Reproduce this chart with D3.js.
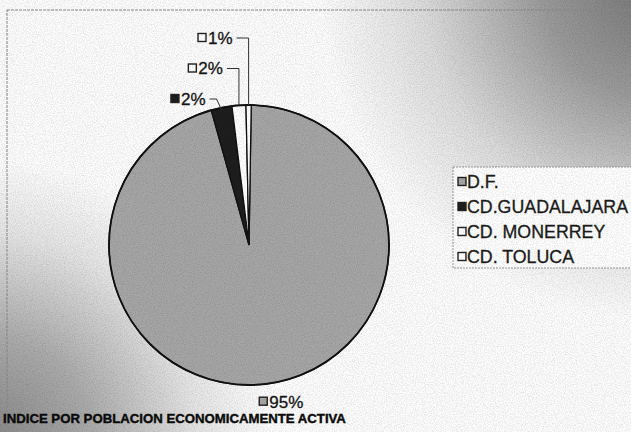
<!DOCTYPE html>
<html>
<head>
<meta charset="utf-8">
<script src="https://cdn.jsdelivr.net/npm/d3@7"></script>
<style>
  body { margin: 0; background: #fff; }
  svg { display: block; font-family: Arial, "Liberation Sans", sans-serif; }
</style>
</head>
<body>
<div id="viz"></div>
<script>
const width = 631;
const height = 432;

// Data
const cities = ['D.F.', 'CD.GUADALAJARA', 'CD. MONERREY', 'CD. TOLUCA'];
const shares = [95.4, 2.4, 1.6, 0.6];
const sliceColors = ['#a6a6a6', '#1e1e1e', '#ffffff', '#ffffff'];
const title = 'INDICE POR POBLACION ECONOMICAMENTE ACTIVA';

const cx = 249, cy = 245, radius = 140;

const svg = d3.select('#viz')
  .append('svg')
    .attr('width', width)
    .attr('height', height);

const defs = svg.append('defs');

// Background shading: dark corner top-right and bottom-left
const addGlow = (id, x, y, r, stops) => {
  const g = defs.append('radialGradient')
    .attr('id', id)
    .attr('gradientUnits', 'userSpaceOnUse')
    .attr('cx', x).attr('cy', y).attr('r', r);
  stops.forEach(s => g.append('stop').attr('offset', s[0])
    .attr('stop-color', '#5a5a5a').attr('stop-opacity', s[1]));
};
addGlow('tr', 660, -20, 340, [[0, 0.85], [0.35, 0.6], [0.7, 0.2], [1, 0]]);
addGlow('bl', -20, 450, 290, [[0, 0.75], [0.4, 0.5], [0.75, 0.15], [1, 0]]);

// grain
const grain = defs.append('filter').attr('id', 'grain')
  .attr('x', 0).attr('y', 0).attr('width', '100%').attr('height', '100%');
grain.append('feTurbulence')
  .attr('type', 'fractalNoise').attr('baseFrequency', 0.9)
  .attr('numOctaves', 2).attr('seed', 3).attr('result', 'n');
grain.append('feColorMatrix')
  .attr('type', 'matrix')
  .attr('values', '0 0 0 0 0  0 0 0 0 0  0 0 0 0 0  0 0 0 -1.2 0.75');

svg.append('rect').attr('width', width).attr('height', height).attr('fill', '#fdfdfd');
svg.append('rect').attr('width', width).attr('height', height).attr('fill', 'url(#tr)');
svg.append('rect').attr('width', width).attr('height', height).attr('fill', 'url(#bl)');

// chart border
svg.append('rect')
  .attr('x', 7).attr('y', 10)
  .attr('width', width + 20).attr('height', height)
  .attr('fill', 'none')
  .attr('stroke', '#8a8a8a')
  .attr('stroke-width', 1)
  .attr('stroke-dasharray', '3,1');

// Pie
const pie = d3.pie()
  .sort(null)
  .startAngle(0.016)
  .endAngle(0.016 + 2 * Math.PI);
const arcs = pie(shares);
const arc = d3.arc().innerRadius(0).outerRadius(radius);

const pieG = svg.append('g').attr('transform', `translate(${cx},${cy})`);
pieG.selectAll('path')
  .data(arcs)
  .join('path')
    .attr('d', arc)
    .attr('fill', (d, i) => sliceColors[i])
    .attr('stroke', '#111')
    .attr('stroke-width', 1.3);
pieG.append('circle')
  .attr('r', radius)
  .attr('fill', 'none')
  .attr('stroke', '#111')
  .attr('stroke-width', 1.8);

// Labels
const pct = d => Math.round(d) + '%';
const labels = svg.append('g')
  .style('font-size', '17px')
  .attr('fill', '#151515')
  .attr('stroke', '#151515')
  .attr('stroke-width', 0.3);

const drawMarker = (g, x, y, i) => {
  g.append('rect')
    .attr('x', x).attr('y', y - 4.5)
    .attr('width', 8).attr('height', 8)
    .attr('fill', sliceColors[i])
    .attr('stroke', '#222')
    .attr('stroke-width', 1.4);
};

arcs.forEach((d, i) => {
  const mid = (d.startAngle + d.endAngle) / 2;
  const ox = cx + Math.sin(mid) * radius;
  const oy = cy - Math.cos(mid) * radius;
  if (i === 0) {
    const lx = cx + Math.sin(mid) * (radius + 18) - 10;
    const ly = cy - Math.cos(mid) * (radius + 18);
    drawMarker(labels, lx, ly, i);
    labels.append('text')
      .attr('x', lx + 10).attr('y', ly)
      .attr('dy', '0.35em')
      .text(pct(d.data));
    return;
  }
  // small slices are stacked above the pie
  const ly = cy - radius - 6 - 30.5 * (i - 1);
  const tx = ox - 16;
  const t = labels.append('text')
    .attr('x', tx).attr('y', ly)
    .attr('dy', '0.35em')
    .attr('text-anchor', 'end')
    .text(pct(d.data));
  const w = t.node().getComputedTextLength();
  drawMarker(labels, tx - w - 10, ly, i);
  const pts = i === 1
    ? [[tx + 4, ly], [tx + 11, ly], [ox, oy + 2]]
    : [[tx + 4, ly], [ox, ly], [ox, oy]];
  svg.append('path')
    .attr('d', d3.line()(pts))
    .attr('fill', 'none')
    .attr('stroke', '#333')
    .attr('stroke-width', 1);
});

// Legend
const legend = svg.append('g');
legend.append('rect')
  .attr('x', 453).attr('y', 167)
  .attr('width', 200).attr('height', 101)
  .attr('fill', '#fff')
  .attr('stroke', '#999')
  .attr('stroke-dasharray', '2,1');
cities.forEach((c, i) => {
  const y = 182 + i * 25;
  drawMarker(legend, 458, y, i);
  legend.append('text')
    .attr('x', 467).attr('y', y)
    .attr('dy', '0.36em')
    .attr('fill', '#1c1c1c')
    .attr('stroke', '#1c1c1c')
    .attr('stroke-width', 0.3)
    .style('font-size', '17.8px')
    .text(c);
});

// grain overlay
svg.append('rect')
  .attr('width', width).attr('height', height)
  .attr('filter', 'url(#grain)')
  .attr('opacity', 0.2);

// Title
svg.append('text')
  .attr('x', 3).attr('y', 423)
  .attr('fill', '#0a0a0a')
  .attr('stroke', '#0a0a0a')
  .attr('stroke-width', 0.4)
  .style('font-size', '13.2px')
  .style('font-weight', 'bold')
  .text(title);
</script>
</body>
</html>
